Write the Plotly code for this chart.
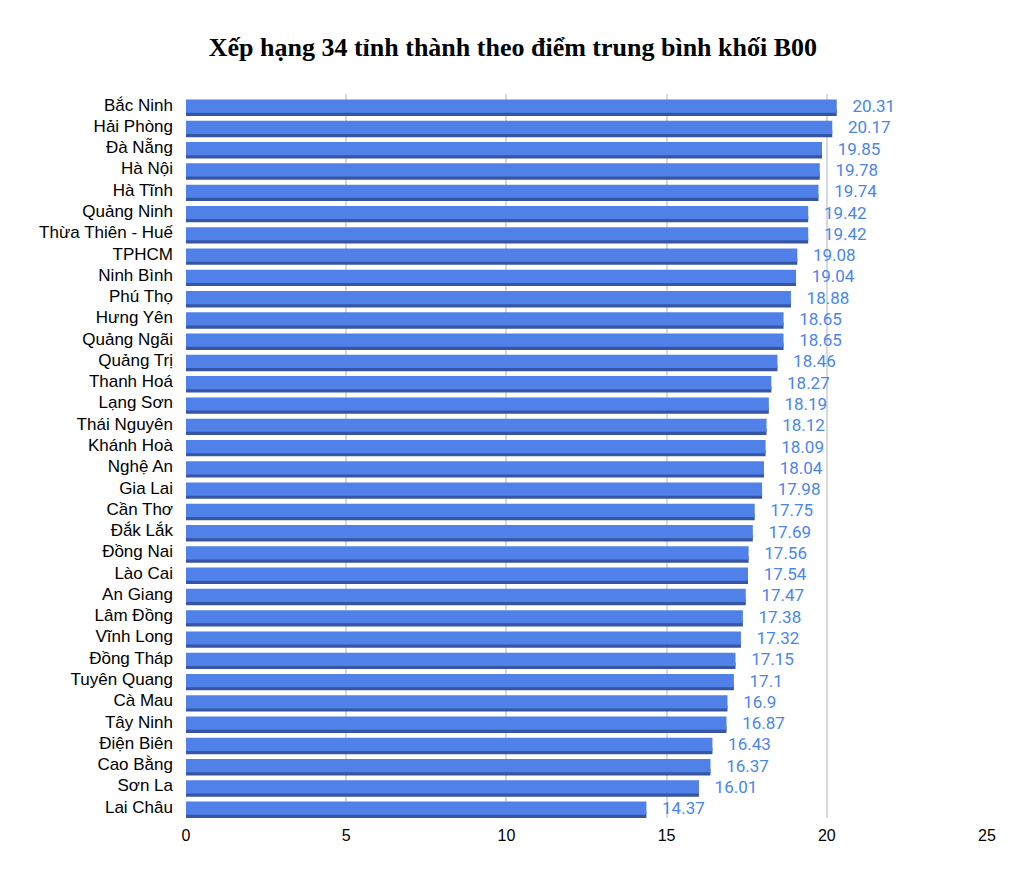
import plotly.graph_objects as go

# du lieu doc tu bieu do
tinh = ['Bắc Ninh', 'Hải Phòng', 'Đà Nẵng', 'Hà Nội', 'Hà Tĩnh', 'Quảng Ninh',
        'Thừa Thiên - Huế', 'TPHCM', 'Ninh Bình', 'Phú Thọ', 'Hưng Yên', 'Quảng Ngãi',
        'Quảng Trị', 'Thanh Hoá', 'Lạng Sơn', 'Thái Nguyên', 'Khánh Hoà', 'Nghệ An',
        'Gia Lai', 'Cần Thơ', 'Đắk Lắk', 'Đồng Nai', 'Lào Cai', 'An Giang',
        'Lâm Đồng', 'Vĩnh Long', 'Đồng Tháp', 'Tuyên Quang', 'Cà Mau', 'Tây Ninh',
        'Điện Biên', 'Cao Bằng', 'Sơn La', 'Lai Châu']
diem = [20.31, 20.17, 19.85, 19.78, 19.74, 19.42, 19.42, 19.08, 19.04, 18.88,
        18.65, 18.65, 18.46, 18.27, 18.19, 18.12, 18.09, 18.04, 17.98, 17.75,
        17.69, 17.56, 17.54, 17.47, 17.38, 17.32, 17.15, 17.1, 16.9, 16.87,
        16.43, 16.37, 16.01, 14.37]
nhan = ['\u00a0\u00a0\u00a0' + str(v) for v in diem]
xticks = [0, 5, 10, 15, 20, 25]

mau = '#4f81e9'
mau_toi = '#3656a3'

fig = go.Figure()
# lop bong phia duoi (hieu ung 3D)
fig.add_trace(go.Bar(y=tinh, x=diem, orientation='h', marker_color=mau_toi,
                     marker_line_width=0, width=0.3, offset=-0.53,
                     hoverinfo='skip', showlegend=False))
# thanh chinh
fig.add_trace(go.Bar(y=tinh, x=diem, orientation='h', marker_color=mau,
                     marker_line_width=0, width=0.62, offset=-0.38,
                     text=nhan, textposition='outside', cliponaxis=False,
                     constraintext='none',
                     textfont=dict(family='Roboto', size=17, color='#4a86e8'),
                     showlegend=False))

fig.update_layout(
    width=1020, height=870,
    barmode='overlay',
    paper_bgcolor='white', plot_bgcolor='white',
    margin=dict(l=178, r=41, t=86, b=60),
    title=dict(text='<b>Xếp hạng 34 tỉnh thành theo điểm trung bình khối B00</b>',
               x=0.495, xanchor='center', y=0.955, yanchor='middle',
               font=dict(family='Liberation Serif', size=26, color='black')),
)
fig.update_xaxes(range=[0, 25], tickvals=xticks, showgrid=True, gridcolor='#d9d9d9',
                 gridwidth=1.5, zeroline=False, showline=False, automargin=False,
                 ticklabelstandoff=6,
                 tickfont=dict(family='Liberation Sans', size=16, color='black'))
fig.update_yaxes(categoryorder='array', categoryarray=tinh[::-1],
                 ticks='', ticklabelstandoff=12, automargin=False,
                 tickfont=dict(family='Liberation Sans', size=17, color='black'))

fig.write_html("out.html")
